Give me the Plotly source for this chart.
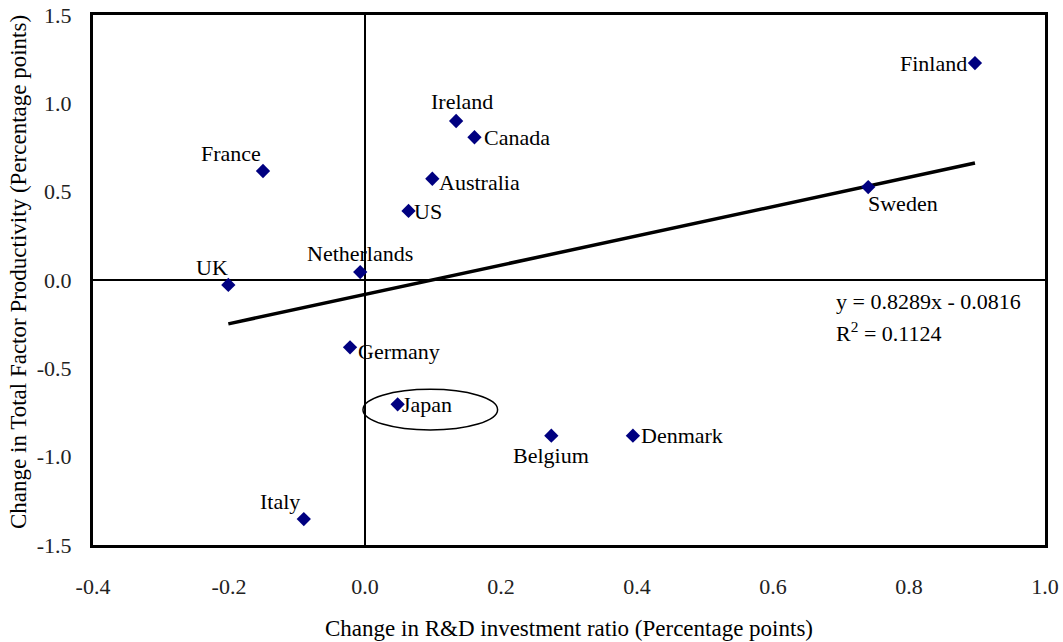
import plotly.graph_objects as go

# Country-level changes (percentage points)
countries = ["Finland", "Sweden", "France", "UK", "Netherlands", "Ireland", "Canada",
             "Australia", "US", "Germany", "Japan", "Belgium", "Denmark", "Italy"]
rd_change = [0.897, 0.740, -0.150, -0.201, -0.007, 0.134, 0.161,
             0.099, 0.064, -0.022, 0.048, 0.274, 0.394, -0.090]
tfp_change = [1.228, 0.526, 0.617, -0.028, 0.045, 0.900, 0.808,
              0.573, 0.391, -0.381, -0.704, -0.881, -0.881, -1.353]

# Linear trend fitted to the points
slope = 0.8289
intercept = -0.0816
r_squared = 0.1124

x_ticks = [-0.4, -0.2, 0.0, 0.2, 0.4, 0.6, 0.8, 1.0]
y_ticks = [-1.5, -1.0, -0.5, 0.0, 0.5, 1.0, 1.5]

FONT = "Liberation Serif, Times New Roman, serif"
FS = 22
TITLE_FS = 23

# label placement: (xanchor, yanchor, xshift, yshift)
label_pos = {
    "Finland": ("right", "middle", -6, 0),
    "Sweden": ("left", "top", -2, -2),
    "France": ("right", "bottom", 0, 3),
    "UK": ("right", "bottom", 2, 3),
    "Netherlands": ("center", "bottom", 0, 4),
    "Ireland": ("center", "bottom", 6, 5),
    "Canada": ("left", "middle", 8, 0),
    "Australia": ("left", "middle", 5, -4),
    "US": ("left", "middle", 3, -1),
    "Germany": ("left", "middle", 6, -4),
    "Japan": ("left", "middle", 2, 0),
    "Belgium": ("center", "top", 0, -5),
    "Denmark": ("left", "middle", 6, 0),
    "Italy": ("right", "bottom", -2, 3),
}

fig = go.Figure()

x_lo, x_hi = min(rd_change), max(rd_change)
fig.add_trace(go.Scatter(
    x=[x_lo, x_hi],
    y=[slope * x_lo + intercept, slope * x_hi + intercept],
    mode="lines",
    line=dict(color="black", width=3.5),
    showlegend=False,
    hoverinfo="skip",
))

fig.add_trace(go.Scatter(
    x=rd_change, y=tfp_change, mode="markers",
    marker=dict(symbol="diamond", size=11, color="#000080"),
    text=countries, showlegend=False,
))

annotations = []
for name, xv, yv in zip(countries, rd_change, tfp_change):
    xa, ya, xs, ys = label_pos[name]
    annotations.append(dict(
        x=xv, y=yv, xref="x", yref="y", text=name, showarrow=False,
        xanchor=xa, yanchor=ya, xshift=xs, yshift=ys,
        font=dict(family=FONT, size=FS, color="black"),
    ))

annotations.append(dict(
    x=0.69, y=-0.12, xref="x", yref="y", showarrow=False,
    text=f"y = {slope:.4f}x - {abs(intercept):.4f}",
    xanchor="left", yanchor="middle",
    font=dict(family=FONT, size=FS, color="black"),
))
annotations.append(dict(
    x=0.69, y=-0.295, xref="x", yref="y", showarrow=False,
    text=f"R<sup>2</sup> = {r_squared:.4f}",
    xanchor="left", yanchor="middle",
    font=dict(family=FONT, size=FS, color="black"),
))

annotations.append(dict(
    x=0.5, y=0, xref="paper", yref="paper", yshift=-83,
    text="Change in R&amp;D investment ratio (Percentage points)",
    showarrow=False, xanchor="center", yanchor="middle",
    font=dict(family=FONT, size=TITLE_FS, color="black"),
))
annotations.append(dict(
    x=0, y=0.5, xref="paper", yref="paper", xshift=-75, yshift=8,
    text="Change in Total Factor Productivity (Percentage points)",
    showarrow=False, textangle=-90, xanchor="center", yanchor="middle",
    font=dict(family=FONT, size=TITLE_FS, color="black"),
))

fig.update_layout(
    width=1063, height=642,
    margin=dict(l=93, r=18, t=15, b=97),
    paper_bgcolor="white", plot_bgcolor="white",
    font=dict(family=FONT, size=FS, color="black"),
    annotations=annotations,
    shapes=[dict(
        type="circle", xref="x", yref="y",
        x0=-0.003, x1=0.195, y0=-0.849, y1=-0.619,
        line=dict(color="black", width=1.5),
    )],
)

fig.update_xaxes(
    range=[-0.4, 1.0], tickvals=x_ticks,
    ticktext=[f"{v:.1f}" for v in x_ticks],
    showgrid=False, zeroline=True, zerolinecolor="black", zerolinewidth=1.5,
    showline=True, linecolor="black", linewidth=3, mirror=True,
    ticks="", ticklabelstandoff=20, automargin=False,
    tickfont=dict(family=FONT, size=FS, color="#222"),
)
fig.update_yaxes(
    range=[-1.5, 1.5], tickvals=y_ticks,
    ticktext=[f"{v:.1f}" for v in y_ticks],
    showgrid=False, zeroline=True, zerolinecolor="black", zerolinewidth=1.5,
    showline=True, linecolor="black", linewidth=3, mirror=True,
    ticks="", ticklabelstandoff=14, automargin=False,
    tickfont=dict(family=FONT, size=FS, color="#222"),
)

fig.write_html("out.html")
